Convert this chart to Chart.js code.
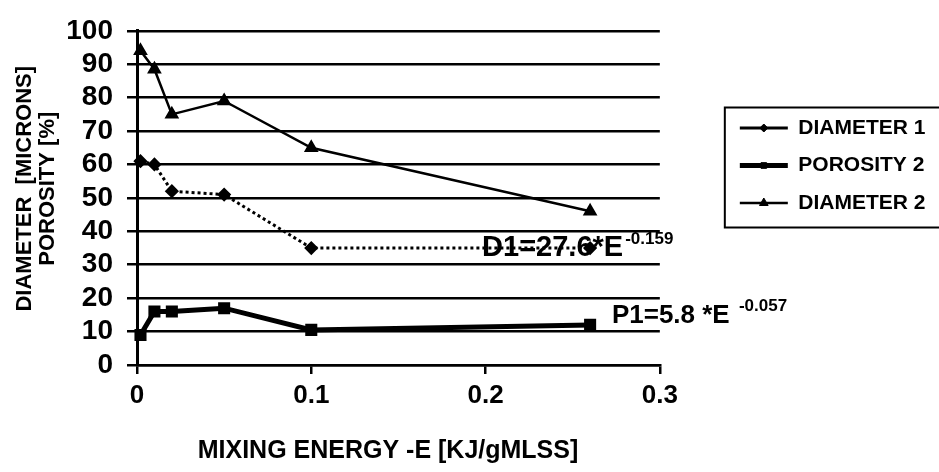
<!DOCTYPE html>
<html><head><meta charset="utf-8">
<script src="https://cdn.jsdelivr.net/npm/chart.js@4.4.1/dist/chart.umd.min.js"></script>
<style>html,body{margin:0;padding:0;background:#fff;}canvas{display:block;}</style>
</head><body>
<canvas id="c" width="939" height="472"></canvas>
<script>
// ---- data ----
const mixingEnergy = [0.002, 0.01, 0.02, 0.05, 0.1, 0.26];
const diameter1   = [61, 60, 52, 51, 35, 35];
const porosity2   = [9, 16, 16, 17, 10.5, 12];
const diameter2   = [94, 88.5, 75, 79, 65, 46];
const seriesNames = ['DIAMETER 1', 'POROSITY 2', 'DIAMETER 2'];
const xTickLabels = ['0', '0.1', '0.2', '0.3'];
const yTickLabels = ['0', '10', '20', '30', '40', '50', '60', '70', '80', '90', '100'];
const xTitle = 'MIXING ENERGY -E [KJ/gMLSS]';
const yTitle = ['DIAMETER  [MICRONS]', 'POROSITY [%]'];
const fitTexts = ['D1=27.6*E', 'P1=5.8 *E '];
const fitExponents = ['-0.159', '-0.057'];
const fitAnchorX = [0.198, 0.2725];
const fitAnchorY = [32.6, 12.5];

const FONT = "'Liberation Sans', Arial, sans-serif";
const NB = '\u00A0';
const pts = ys => mixingEnergy.map((x, i) => ({x, y: ys[i]}));

const extras = {
  id: 'extras',
  afterDatasetsDraw(chart) {
    const {ctx, scales} = chart;
    ctx.save();
    ctx.fillStyle = '#000';
    ctx.textBaseline = 'alphabetic';
    ctx.textAlign = 'left';
    const mainSizes = [29, 26];
    fitTexts.forEach((t, i) => {
      const px = scales.x.getPixelForValue(fitAnchorX[i]);
      const py = scales.y.getPixelForValue(fitAnchorY[i]);
      ctx.font = 'bold ' + mainSizes[i] + 'px ' + FONT;
      ctx.fillText(t, px, py);
      const w = ctx.measureText(t).width;
      ctx.font = 'bold 17px ' + FONT;
      ctx.fillText(fitExponents[i], px + w + 2, py - 12);
    });
    ctx.restore();
  },
  afterDraw(chart) {
    const lg = chart.legend;
    if (!lg || !lg.legendHitBoxes || !lg.legendHitBoxes.length) return;
    const {ctx} = chart;
    const hb = lg.legendHitBoxes;
    const bw = lg.options.labels.pointStyleWidth;
    const fs = lg.options.labels.font.size;
    ctx.save();
    ctx.fillStyle = '#000';
    ctx.strokeStyle = '#000';
    hb.forEach((h, i) => {
      const item = lg.legendItems[i];
      const ds = chart.data.datasets[item.datasetIndex];
      const cx = h.left + bw / 2, cy = h.top + fs / 2;
      if (Chart.helpers && Chart.helpers.drawPoint) {
        ctx.lineWidth = 1;
        ctx.setLineDash([]);
        Chart.helpers.drawPoint(ctx, {pointStyle: ds.pointStyle, radius: ds.pointRadius - 1, rotation: 0, borderWidth: 1}, cx, cy);
      } else {
        ctx.beginPath(); ctx.arc(cx, cy, ds.pointRadius - 1, 0, Math.PI * 2); ctx.fill();
      }
    });
    // legend frame
    const first = hb[0], last = hb[hb.length - 1];
    const left = Math.min(...hb.map(h => h.left)) - 15;
    const top = first.top - 10;
    const bottom = last.top + last.height + 14;
    ctx.lineWidth = 2;
    ctx.setLineDash([]);
    ctx.strokeRect(left, top, chart.width + 10 - left, bottom - top);
    ctx.restore();
  }
};

new Chart(document.getElementById('c'), {
  type: 'line',
  data: {
    datasets: [
      {label: seriesNames[0], data: pts(diameter1), borderColor: '#000', backgroundColor: '#000',
       borderWidth: 3, borderDash: [3, 3], pointStyle: 'rectRot', pointRadius: 5,
       pointBackgroundColor: '#000', pointBorderColor: '#000', clip: 12},
      {label: seriesNames[1], data: pts(porosity2), borderColor: '#000', backgroundColor: '#000',
       borderWidth: 5, pointStyle: 'rect', pointRadius: 5,
       pointBackgroundColor: '#000', pointBorderColor: '#000', clip: 12},
      {label: seriesNames[2], data: pts(diameter2), borderColor: '#000', backgroundColor: '#000',
       borderWidth: 2.5, pointStyle: 'triangle', pointRadius: 6,
       pointBackgroundColor: '#000', pointBorderColor: '#000', clip: 12}
    ]
  },
  options: {
    responsive: false,
    animation: false,
    devicePixelRatio: 1,
    layout: {padding: {top: 5, right: 3.5, bottom: 0, left: 0}},
    elements: {line: {tension: 0, fill: false}},
    scales: {
      x: {
        type: 'linear', min: 0, max: 0.3,
        afterFit(s) { s.height = 107; },
        grid: {display: true, drawOnChartArea: false, drawTicks: true, tickLength: 9, color: '#000', lineWidth: 2.5},
        border: {display: true, color: '#000', width: 2.5},
        ticks: {stepSize: 0.1, padding: 6, autoSkip: false, color: '#000', font: {family: FONT, size: 26, weight: 'bold'},
                callback: v => xTickLabels[Math.round(v * 10)]},
        title: {display: true, text: xTitle + NB + NB + NB, color: '#000', font: {family: FONT, size: 25, weight: 'bold'},
                padding: {top: 0, bottom: 6}}
      },
      y: {
        type: 'linear', min: 0, max: 100,
        afterFit(s) { s.width = 137; },
        grid: {display: true, drawTicks: true, tickLength: 10, color: '#000', lineWidth: 2.5},
        border: {display: true, color: '#000', width: 3},
        ticks: {stepSize: 10, padding: 14, autoSkip: false, color: '#000', font: {family: FONT, size: 28, weight: 'bold'},
                callback: v => yTickLabels[Math.round(v / 10)]},
        title: {display: true, text: yTitle.map(t => NB + NB + NB + t), color: '#000',
                font: {family: FONT, size: 22, weight: 'bold', lineHeight: 1.07},
                padding: {top: 13, bottom: 0}}
      },
      yR: {
        type: 'linear', position: 'right', display: true,
        afterFit(s) { s.width = 63.5; },
        grid: {display: false}, border: {display: false}, ticks: {display: false}
      }
    },
    plugins: {
      tooltip: {enabled: false},
      legend: {
        position: 'right', align: 'start', fullSize: true, maxWidth: 320,
        title: {display: true, text: '', font: {size: 10}, padding: {top: 84, bottom: 0}},
        labels: {
          usePointStyle: true, pointStyleWidth: 48, color: '#000', padding: 16.5,
          font: {family: FONT, size: 21, weight: 'bold'},
          generateLabels(chart) {
            const items = Chart.defaults.plugins.legend.labels.generateLabels(chart);
            items.forEach(it => { it.pointStyle = 'line'; it.rotation = 0; it.fillStyle = '#000'; });
            return items;
          }
        }
      }
    }
  },
  plugins: [extras]
});
</script>
</body></html>
